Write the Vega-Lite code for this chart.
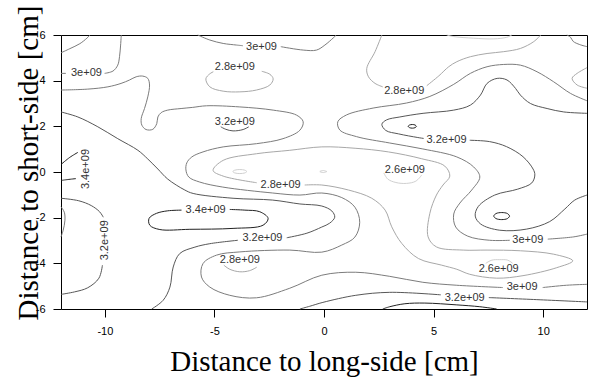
{
"$schema":"https://vega.github.io/schema/vega-lite/v6.json",
"width":526,"height":274,
"autosize":{"type":"none"},
"padding":{"left":61,"top":35,"right":5,"bottom":70},
"background":"#ffffff",
"config":{"view":{"stroke":"#000","strokeWidth":1}},
"datasets":{
"lines":[
{"g":"A","o":0,"x":-12,"y":5.22,"l":"3.0"},{"g":"A","o":1,"x":-11.6,"y":5.40,"l":"3.0"},{"g":"A","o":2,"x":-11.14,"y":5.62,"l":"3.0"},{"g":"A","o":3,"x":-10.82,"y":5.86,"l":"3.0"},{"g":"A","o":4,"x":-10.68,"y":6.0,"l":"3.0"},
{"g":"B1","o":0,"x":-12,"y":4.32,"l":"3.0"},{"g":"B1","o":1,"x":-11.78,"y":4.32,"l":"3.0"},
{"g":"B2","o":0,"x":-10.01,"y":4.32,"l":"3.0"},{"g":"B2","o":1,"x":-9.63,"y":4.42,"l":"3.0"},{"g":"B2","o":2,"x":-9.41,"y":4.68,"l":"3.0"},{"g":"B2","o":3,"x":-9.33,"y":5.05,"l":"3.0"},{"g":"B2","o":4,"x":-9.28,"y":5.56,"l":"3.0"},{"g":"B2","o":5,"x":-9.25,"y":6.0,"l":"3.0"},
{"g":"C","o":0,"x":-12,"y":3.59,"l":"3.0"},{"g":"C","o":1,"x":-10.78,"y":3.63,"l":"3.0"},{"g":"C","o":2,"x":-9.86,"y":3.73,"l":"3.0"},{"g":"C","o":3,"x":-9.26,"y":3.88,"l":"3.0"},{"g":"C","o":4,"x":-8.87,"y":4.03,"l":"3.0"},{"g":"C","o":5,"x":-8.57,"y":4.17,"l":"3.0"},{"g":"C","o":6,"x":-8.27,"y":4.20,"l":"3.0"},{"g":"C","o":7,"x":-8.04,"y":4.10,"l":"3.0"},{"g":"C","o":8,"x":-7.96,"y":3.81,"l":"3.0"},{"g":"C","o":9,"x":-8.04,"y":3.29,"l":"3.0"},{"g":"C","o":10,"x":-8.19,"y":2.78,"l":"3.0"},{"g":"C","o":11,"x":-8.34,"y":2.34,"l":"3.0"},{"g":"C","o":12,"x":-8.31,"y":2.05,"l":"3.0"},{"g":"C","o":13,"x":-8.12,"y":1.86,"l":"3.0"},{"g":"C","o":14,"x":-7.81,"y":1.87,"l":"3.0"},{"g":"C","o":15,"x":-7.63,"y":2.12,"l":"3.0"},{"g":"C","o":16,"x":-7.58,"y":2.41,"l":"3.0"},{"g":"C","o":17,"x":-7.43,"y":2.60,"l":"3.0"},{"g":"C","o":18,"x":-7.13,"y":2.71,"l":"3.0"},{"g":"C","o":19,"x":-6.52,"y":2.78,"l":"3.0"},{"g":"C","o":20,"x":-5.99,"y":2.83,"l":"3.0"},{"g":"C","o":21,"x":-5.36,"y":2.90,"l":"3.0"},{"g":"C","o":22,"x":-3.84,"y":2.85,"l":"3.0"},{"g":"C","o":23,"x":-2.32,"y":2.71,"l":"3.0"},{"g":"C","o":24,"x":-1.25,"y":2.49,"l":"3.0"},{"g":"C","o":25,"x":-0.95,"y":2.20,"l":"3.0"},{"g":"C","o":26,"x":-1.10,"y":1.83,"l":"3.0"},{"g":"C","o":27,"x":-1.87,"y":1.46,"l":"3.0"},{"g":"C","o":28,"x":-3.08,"y":1.24,"l":"3.0"},{"g":"C","o":29,"x":-4.60,"y":1.10,"l":"3.0"},{"g":"C","o":30,"x":-5.52,"y":0.88,"l":"3.0"},{"g":"C","o":31,"x":-6.03,"y":0.66,"l":"3.0"},{"g":"C","o":32,"x":-6.26,"y":0.40,"l":"3.0"},{"g":"C","o":33,"x":-6.30,"y":0.09,"l":"3.0"},{"g":"C","o":34,"x":-6.17,"y":-0.22,"l":"3.0"},{"g":"C","o":35,"x":-5.67,"y":-0.44,"l":"3.0"},{"g":"C","o":36,"x":-4.62,"y":-0.66,"l":"3.0"},{"g":"C","o":37,"x":-2.34,"y":-0.92,"l":"3.0"},{"g":"C","o":38,"x":-1.10,"y":-1.01,"l":"3.0"},{"g":"C","o":39,"x":-0.10,"y":-0.92,"l":"3.0"},{"g":"C","o":40,"x":0.81,"y":-1.12,"l":"3.0"},{"g":"C","o":41,"x":1.41,"y":-1.54,"l":"3.0"},{"g":"C","o":42,"x":1.63,"y":-2.20,"l":"3.0"},{"g":"C","o":43,"x":1.41,"y":-2.85,"l":"3.0"},{"g":"C","o":44,"x":0.81,"y":-3.20,"l":"3.0"},{"g":"C","o":45,"x":-0.10,"y":-3.51,"l":"3.0"},{"g":"C","o":46,"x":-1.56,"y":-3.42,"l":"3.0"},{"g":"C","o":47,"x":-3.84,"y":-3.50,"l":"3.0"},{"g":"C","o":48,"x":-4.90,"y":-3.64,"l":"3.0"},{"g":"C","o":49,"x":-5.52,"y":-4.01,"l":"3.0"},{"g":"C","o":50,"x":-5.59,"y":-4.60,"l":"3.0"},{"g":"C","o":51,"x":-5.21,"y":-5.04,"l":"3.0"},{"g":"C","o":52,"x":-4.30,"y":-5.40,"l":"3.0"},{"g":"C","o":53,"x":-3.08,"y":-5.51,"l":"3.0"},{"g":"C","o":54,"x":-1.56,"y":-5.09,"l":"3.0"},{"g":"C","o":55,"x":-0.10,"y":-4.52,"l":"3.0"},{"g":"C","o":56,"x":1.45,"y":-4.39,"l":"3.0"},{"g":"C","o":57,"x":3.00,"y":-4.57,"l":"3.0"},{"g":"C","o":58,"x":4.51,"y":-4.83,"l":"3.0"},{"g":"C","o":59,"x":6.06,"y":-4.96,"l":"3.0"},{"g":"C","o":60,"x":8.16,"y":-5.06,"l":"3.0"},
{"g":"C2","o":0,"x":9.98,"y":-5.06,"l":"3.0"},{"g":"C2","o":1,"x":11.06,"y":-4.96,"l":"3.0"},{"g":"C2","o":2,"x":12,"y":-4.92,"l":"3.0"},
{"g":"D","o":0,"x":-12,"y":2.63,"l":"3.2"},{"g":"D","o":1,"x":-11.23,"y":2.41,"l":"3.2"},{"g":"D","o":2,"x":-10.32,"y":1.98,"l":"3.2"},{"g":"D","o":3,"x":-9.41,"y":1.46,"l":"3.2"},{"g":"D","o":4,"x":-8.49,"y":0.95,"l":"3.2"},{"g":"D","o":5,"x":-8.04,"y":0.57,"l":"3.2"},{"g":"D","o":6,"x":-7.58,"y":0.13,"l":"3.2"},{"g":"D","o":7,"x":-7.13,"y":-0.31,"l":"3.2"},{"g":"D","o":8,"x":-6.35,"y":-0.79,"l":"3.2"},{"g":"D","o":9,"x":-5.97,"y":-0.94,"l":"3.2"},{"g":"D","o":10,"x":-4.15,"y":-1.15,"l":"3.2"},{"g":"D","o":11,"x":-2.34,"y":-1.23,"l":"3.2"},{"g":"D","o":12,"x":-1.10,"y":-1.40,"l":"3.2"},{"g":"D","o":13,"x":-0.10,"y":-1.49,"l":"3.2"},{"g":"D","o":14,"x":0.36,"y":-1.71,"l":"3.2"},{"g":"D","o":15,"x":0.49,"y":-1.98,"l":"3.2"},{"g":"D","o":16,"x":0.26,"y":-2.24,"l":"3.2"},{"g":"D","o":17,"x":-0.10,"y":-2.41,"l":"3.2"},{"g":"D","o":18,"x":-0.78,"y":-2.68,"l":"3.2"},{"g":"D","o":19,"x":-1.70,"y":-2.88,"l":"3.2"},
{"g":"N","o":0,"x":-3.93,"y":-2.99,"l":"3.2"},{"g":"N","o":1,"x":-5.21,"y":-3.14,"l":"3.2"},{"g":"N","o":2,"x":-5.89,"y":-3.29,"l":"3.2"},{"g":"N","o":3,"x":-6.58,"y":-3.57,"l":"3.2"},{"g":"N","o":4,"x":-6.88,"y":-4.16,"l":"3.2"},{"g":"N","o":5,"x":-7.03,"y":-5.04,"l":"3.2"},{"g":"N","o":6,"x":-7.34,"y":-5.62,"l":"3.2"},{"g":"N","o":7,"x":-7.86,"y":-6.0,"l":"3.2"},
{"g":"M","o":0,"x":-6.50,"y":-1.67,"l":"3.4"},{"g":"M","o":1,"x":-7.13,"y":-1.70,"l":"3.4"},{"g":"M","o":2,"x":-7.64,"y":-1.81,"l":"3.4"},{"g":"M","o":3,"x":-7.98,"y":-2.03,"l":"3.4"},{"g":"M","o":4,"x":-7.95,"y":-2.33,"l":"3.4"},{"g":"M","o":5,"x":-7.49,"y":-2.52,"l":"3.4"},{"g":"M","o":6,"x":-6.12,"y":-2.51,"l":"3.4"},{"g":"M","o":7,"x":-4.15,"y":-2.47,"l":"3.4"},{"g":"M","o":8,"x":-2.78,"y":-2.33,"l":"3.4"},{"g":"M","o":9,"x":-2.55,"y":-2.03,"l":"3.4"},{"g":"M","o":10,"x":-2.93,"y":-1.74,"l":"3.4"},{"g":"M","o":11,"x":-3.61,"y":-1.67,"l":"3.4"},{"g":"M","o":12,"x":-4.30,"y":-1.64,"l":"3.4"},
{"g":"E1","o":0,"x":-12,"y":0.33,"l":"3.4"},{"g":"E1","o":1,"x":-11.6,"y":0.64,"l":"3.4"},{"g":"E1","o":2,"x":-11.23,"y":0.86,"l":"3.4"},
{"g":"E2","o":0,"x":-11.32,"y":-0.29,"l":"3.4"},{"g":"E2","o":1,"x":-11.69,"y":-0.33,"l":"3.4"},{"g":"E2","o":2,"x":-12,"y":-0.37,"l":"3.4"},
{"g":"LL","o":0,"x":-12,"y":-1.52,"l":"3.0"},{"g":"LL","o":1,"x":-11.85,"y":-1.76,"l":"3.0"},{"g":"LL","o":2,"x":-11.82,"y":-2.11,"l":"3.0"},{"g":"LL","o":3,"x":-11.90,"y":-2.55,"l":"3.0"},{"g":"LL","o":4,"x":-12,"y":-2.84,"l":"3.0"},
{"g":"F1","o":0,"x":-12,"y":-1.15,"l":"3.2"},{"g":"F1","o":1,"x":-11.19,"y":-1.26,"l":"3.2"},{"g":"F1","o":2,"x":-10.62,"y":-1.47,"l":"3.2"},{"g":"F1","o":3,"x":-10.24,"y":-1.74,"l":"3.2"},{"g":"F1","o":4,"x":-10.07,"y":-1.98,"l":"3.2"},
{"g":"F2","o":0,"x":-10.11,"y":-4.08,"l":"3.2"},{"g":"F2","o":1,"x":-10.27,"y":-4.65,"l":"3.2"},{"g":"F2","o":2,"x":-10.78,"y":-5.07,"l":"3.2"},{"g":"F2","o":3,"x":-11.38,"y":-5.25,"l":"3.2"},{"g":"F2","o":4,"x":-12,"y":-5.36,"l":"3.2"},
{"g":"G1","o":0,"x":-5.76,"y":6.0,"l":"3.0"},{"g":"G1","o":1,"x":-5.21,"y":5.78,"l":"3.0"},{"g":"G1","o":2,"x":-4.60,"y":5.63,"l":"3.0"},{"g":"G1","o":3,"x":-3.99,"y":5.56,"l":"3.0"},{"g":"G1","o":4,"x":-3.70,"y":5.53,"l":"3.0"},
{"g":"G2","o":0,"x":-1.97,"y":5.49,"l":"3.0"},{"g":"G2","o":1,"x":-0.95,"y":5.34,"l":"3.0"},{"g":"G2","o":2,"x":-0.34,"y":5.34,"l":"3.0"},{"g":"G2","o":3,"x":0.04,"y":5.56,"l":"3.0"},{"g":"G2","o":4,"x":0.42,"y":5.87,"l":"3.0"},{"g":"G2","o":5,"x":0.56,"y":6.0,"l":"3.0"},
{"g":"L28a","o":0,"x":-2.84,"y":4.41,"l":"2.8"},{"g":"L28a","o":1,"x":-2.47,"y":4.28,"l":"2.8"},{"g":"L28a","o":2,"x":-2.32,"y":4.08,"l":"2.8"},{"g":"L28a","o":3,"x":-2.47,"y":3.81,"l":"2.8"},{"g":"L28a","o":4,"x":-3.08,"y":3.59,"l":"2.8"},{"g":"L28a","o":5,"x":-3.84,"y":3.51,"l":"2.8"},{"g":"L28a","o":6,"x":-4.60,"y":3.54,"l":"2.8"},{"g":"L28a","o":7,"x":-5.21,"y":3.73,"l":"2.8"},{"g":"L28a","o":8,"x":-5.39,"y":4.08,"l":"2.8"},{"g":"L28a","o":9,"x":-5.21,"y":4.30,"l":"2.8"},{"g":"L28a","o":10,"x":-5.05,"y":4.39,"l":"2.8"},
{"g":"L32a","o":0,"x":-4.71,"y":1.98,"l":"3.2"},{"g":"L32a","o":1,"x":-4.48,"y":1.87,"l":"3.2"},{"g":"L32a","o":2,"x":-4.15,"y":1.80,"l":"3.2"},{"g":"L32a","o":3,"x":-3.69,"y":1.86,"l":"3.2"},{"g":"L32a","o":4,"x":-3.43,"y":1.98,"l":"3.2"},
{"g":"H1","o":0,"x":2.64,"y":6.0,"l":"2.8"},{"g":"H1","o":1,"x":2.33,"y":5.27,"l":"2.8"},{"g":"H1","o":2,"x":1.95,"y":4.53,"l":"2.8"},{"g":"H1","o":3,"x":2.03,"y":4.17,"l":"2.8"},{"g":"H1","o":4,"x":2.33,"y":3.88,"l":"2.8"},{"g":"H1","o":5,"x":2.68,"y":3.73,"l":"2.8"},
{"g":"H2","o":0,"x":4.69,"y":3.78,"l":"2.8"},{"g":"H2","o":1,"x":5.24,"y":4.21,"l":"2.8"},{"g":"H2","o":2,"x":5.69,"y":4.61,"l":"2.8"},{"g":"H2","o":3,"x":6.06,"y":4.83,"l":"2.8"},{"g":"H2","o":4,"x":6.68,"y":5.05,"l":"2.8"},{"g":"H2","o":5,"x":7.44,"y":5.19,"l":"2.8"},{"g":"H2","o":6,"x":8.20,"y":5.27,"l":"2.8"},{"g":"H2","o":7,"x":8.96,"y":5.41,"l":"2.8"},{"g":"H2","o":8,"x":9.57,"y":5.71,"l":"2.8"},{"g":"H2","o":9,"x":9.89,"y":6.0,"l":"2.8"},
{"g":"T26","o":0,"x":5.60,"y":6.0,"l":"2.6"},{"g":"T26","o":1,"x":5.92,"y":5.93,"l":"2.6"},{"g":"T26","o":2,"x":6.83,"y":5.86,"l":"2.6"},{"g":"T26","o":3,"x":7.75,"y":5.83,"l":"2.6"},{"g":"T26","o":4,"x":8.34,"y":5.90,"l":"2.6"},{"g":"T26","o":5,"x":8.57,"y":6.0,"l":"2.6"},
{"g":"I","o":0,"x":11.08,"y":6.0,"l":"3.0"},{"g":"I","o":1,"x":11.25,"y":5.90,"l":"3.0"},{"g":"I","o":2,"x":11.37,"y":5.72,"l":"3.0"},{"g":"I","o":3,"x":11.67,"y":5.58,"l":"3.0"},{"g":"I","o":4,"x":12,"y":5.49,"l":"3.0"},
{"g":"J","o":0,"x":12,"y":4.57,"l":"2.8"},{"g":"J","o":1,"x":11.55,"y":4.32,"l":"2.8"},{"g":"J","o":2,"x":11.32,"y":4.10,"l":"2.8"},{"g":"J","o":3,"x":11.55,"y":3.81,"l":"2.8"},{"g":"J","o":4,"x":12,"y":3.67,"l":"2.8"},
{"g":"K","o":0,"x":12,"y":3.12,"l":"3.0"},{"g":"K","o":1,"x":11.25,"y":3.44,"l":"3.0"},{"g":"K","o":2,"x":10.48,"y":3.95,"l":"3.0"},{"g":"K","o":3,"x":9.72,"y":4.39,"l":"3.0"},{"g":"K","o":4,"x":8.96,"y":4.68,"l":"3.0"},{"g":"K","o":5,"x":8.20,"y":4.71,"l":"3.0"},{"g":"K","o":6,"x":7.44,"y":4.61,"l":"3.0"},{"g":"K","o":7,"x":6.68,"y":4.32,"l":"3.0"},{"g":"K","o":8,"x":5.92,"y":3.84,"l":"3.0"},{"g":"K","o":9,"x":4.83,"y":3.31,"l":"3.0"},{"g":"K","o":10,"x":3.76,"y":3.02,"l":"3.0"},{"g":"K","o":11,"x":2.24,"y":2.80,"l":"3.0"},{"g":"K","o":12,"x":1.03,"y":2.50,"l":"3.0"},{"g":"K","o":13,"x":0.63,"y":2.20,"l":"3.0"},{"g":"K","o":14,"x":0.72,"y":1.84,"l":"3.0"},{"g":"K","o":15,"x":1.48,"y":1.55,"l":"3.0"},{"g":"K","o":16,"x":3.00,"y":1.27,"l":"3.0"},{"g":"K","o":17,"x":4.51,"y":1.01,"l":"3.0"},{"g":"K","o":18,"x":6.06,"y":0.66,"l":"3.0"},{"g":"K","o":19,"x":6.83,"y":0.22,"l":"3.0"},{"g":"K","o":20,"x":7.11,"y":-0.22,"l":"3.0"},{"g":"K","o":21,"x":6.74,"y":-0.79,"l":"3.0"},{"g":"K","o":22,"x":6.20,"y":-1.36,"l":"3.0"},{"g":"K","o":23,"x":5.92,"y":-1.84,"l":"3.0"},{"g":"K","o":24,"x":6.01,"y":-2.41,"l":"3.0"},{"g":"K","o":25,"x":6.56,"y":-2.81,"l":"3.0"},{"g":"K","o":26,"x":7.56,"y":-2.99,"l":"3.0"},{"g":"K","o":27,"x":8.48,"y":-2.99,"l":"3.0"},
{"g":"K2","o":0,"x":10.21,"y":-2.94,"l":"3.0"},{"g":"K2","o":1,"x":11.40,"y":-2.84,"l":"3.0"},{"g":"K2","o":2,"x":12,"y":-2.72,"l":"3.0"},
{"g":"S1","o":0,"x":12,"y":2.57,"l":"3.2"},{"g":"S1","o":1,"x":10.94,"y":2.63,"l":"3.2"},{"g":"S1","o":2,"x":10.18,"y":2.78,"l":"3.2"},{"g":"S1","o":3,"x":9.42,"y":3.00,"l":"3.2"},{"g":"S1","o":4,"x":8.96,"y":3.37,"l":"3.2"},{"g":"S1","o":5,"x":8.74,"y":3.66,"l":"3.2"},{"g":"S1","o":6,"x":8.35,"y":4.03,"l":"3.2"},{"g":"S1","o":7,"x":7.90,"y":4.10,"l":"3.2"},{"g":"S1","o":8,"x":7.44,"y":3.88,"l":"3.2"},{"g":"S1","o":9,"x":7.14,"y":3.37,"l":"3.2"},{"g":"S1","o":10,"x":6.68,"y":2.93,"l":"3.2"},{"g":"S1","o":11,"x":5.92,"y":2.71,"l":"3.2"},{"g":"S1","o":12,"x":4.52,"y":2.57,"l":"3.2"},{"g":"S1","o":13,"x":3.46,"y":2.41,"l":"3.2"},{"g":"S1","o":14,"x":2.85,"y":2.28,"l":"3.2"},{"g":"S1","o":15,"x":2.64,"y":2.09,"l":"3.2"},{"g":"S1","o":16,"x":2.82,"y":1.82,"l":"3.2"},{"g":"S1","o":17,"x":3.40,"y":1.67,"l":"3.2"},{"g":"S1","o":18,"x":4.28,"y":1.51,"l":"3.2"},{"g":"S1","o":19,"x":4.55,"y":1.47,"l":"3.2"},
{"g":"S2","o":0,"x":6.65,"y":1.39,"l":"3.2"},{"g":"S2","o":1,"x":7.56,"y":1.33,"l":"3.2"},{"g":"S2","o":2,"x":8.33,"y":1.11,"l":"3.2"},{"g":"S2","o":3,"x":9.08,"y":0.67,"l":"3.2"},{"g":"S2","o":4,"x":9.54,"y":0.13,"l":"3.2"},{"g":"S2","o":5,"x":9.62,"y":-0.13,"l":"3.2"},{"g":"S2","o":6,"x":9.48,"y":-0.48,"l":"3.2"},{"g":"S2","o":7,"x":8.84,"y":-0.75,"l":"3.2"},{"g":"S2","o":8,"x":7.79,"y":-1.01,"l":"3.2"},{"g":"S2","o":9,"x":7.04,"y":-1.51,"l":"3.2"},{"g":"S2","o":10,"x":6.90,"y":-1.93,"l":"3.2"},{"g":"S2","o":11,"x":7.15,"y":-2.28,"l":"3.2"},{"g":"S2","o":12,"x":8.02,"y":-2.55,"l":"3.2"},{"g":"S2","o":13,"x":9.25,"y":-2.50,"l":"3.2"},{"g":"S2","o":14,"x":10.30,"y":-2.17,"l":"3.2"},{"g":"S2","o":15,"x":10.99,"y":-1.62,"l":"3.2"},{"g":"S2","o":16,"x":11.44,"y":-1.23,"l":"3.2"},{"g":"S2","o":17,"x":12,"y":-1.01,"l":"3.2"},
{"g":"Ea","o":0,"x":4.22,"y":2.0,"l":"3.4"},{"g":"Ea","o":1,"x":4.16,"y":2.056,"l":"3.4"},{"g":"Ea","o":2,"x":4.03,"y":2.08,"l":"3.4"},{"g":"Ea","o":3,"x":3.90,"y":2.056,"l":"3.4"},{"g":"Ea","o":4,"x":3.84,"y":2.0,"l":"3.4"},{"g":"Ea","o":5,"x":3.90,"y":1.944,"l":"3.4"},{"g":"Ea","o":6,"x":4.03,"y":1.92,"l":"3.4"},{"g":"Ea","o":7,"x":4.16,"y":1.944,"l":"3.4"},{"g":"Ea","o":8,"x":4.22,"y":2.0,"l":"3.4"},
{"g":"Eb","o":0,"x":8.475,"y":-1.93,"l":"3.4"},{"g":"Eb","o":1,"x":8.37,"y":-1.82,"l":"3.4"},{"g":"Eb","o":2,"x":8.11,"y":-1.776,"l":"3.4"},{"g":"Eb","o":3,"x":7.85,"y":-1.82,"l":"3.4"},{"g":"Eb","o":4,"x":7.745,"y":-1.93,"l":"3.4"},{"g":"Eb","o":5,"x":7.85,"y":-2.04,"l":"3.4"},{"g":"Eb","o":6,"x":8.11,"y":-2.084,"l":"3.4"},{"g":"Eb","o":7,"x":8.37,"y":-2.04,"l":"3.4"},{"g":"Eb","o":8,"x":8.475,"y":-1.93,"l":"3.4"},
{"g":"Sp1","o":0,"x":-3.52,"y":0.02,"l":"2.6"},{"g":"Sp1","o":1,"x":-3.61,"y":0.08,"l":"2.6"},{"g":"Sp1","o":2,"x":-3.84,"y":0.108,"l":"2.6"},{"g":"Sp1","o":3,"x":-4.07,"y":0.08,"l":"2.6"},{"g":"Sp1","o":4,"x":-4.16,"y":0.02,"l":"2.6"},{"g":"Sp1","o":5,"x":-4.07,"y":-0.04,"l":"2.6"},{"g":"Sp1","o":6,"x":-3.84,"y":-0.068,"l":"2.6"},{"g":"Sp1","o":7,"x":-3.61,"y":-0.04,"l":"2.6"},{"g":"Sp1","o":8,"x":-3.52,"y":0.02,"l":"2.6"},
{"g":"Sp2","o":0,"x":0.13,"y":0.02,"l":"2.6"},{"g":"Sp2","o":1,"x":-0.03,"y":0.064,"l":"2.6"},{"g":"Sp2","o":2,"x":-0.19,"y":0.02,"l":"2.6"},{"g":"Sp2","o":3,"x":-0.03,"y":-0.024,"l":"2.6"},{"g":"Sp2","o":4,"x":0.13,"y":0.02,"l":"2.6"},
{"g":"L26c","o":0,"x":2.73,"y":-0.04,"l":"2.6"},{"g":"L26c","o":1,"x":2.91,"y":-0.31,"l":"2.6"},{"g":"L26c","o":2,"x":3.28,"y":-0.46,"l":"2.6"},{"g":"L26c","o":3,"x":3.76,"y":-0.50,"l":"2.6"},{"g":"L26c","o":4,"x":4.19,"y":-0.40,"l":"2.6"},{"g":"L26c","o":5,"x":4.46,"y":-0.13,"l":"2.6"},
{"g":"L26d","o":0,"x":7.38,"y":-4.00,"l":"2.6"},{"g":"L26d","o":1,"x":7.66,"y":-3.86,"l":"2.6"},{"g":"L26d","o":2,"x":8.02,"y":-3.84,"l":"2.6"},{"g":"L26d","o":3,"x":8.38,"y":-3.86,"l":"2.6"},{"g":"L26d","o":4,"x":8.61,"y":-4.00,"l":"2.6"},
{"g":"L28c","o":0,"x":-3.07,"y":-0.47,"l":"2.8"},{"g":"L28c","o":1,"x":-4.60,"y":-0.18,"l":"2.8"},{"g":"L28c","o":2,"x":-5.06,"y":0.07,"l":"2.8"},{"g":"L28c","o":3,"x":-4.60,"y":0.51,"l":"2.8"},{"g":"L28c","o":4,"x":-3.08,"y":0.80,"l":"2.8"},{"g":"L28c","o":5,"x":-1.56,"y":0.95,"l":"2.8"},{"g":"L28c","o":6,"x":-0.10,"y":1.10,"l":"2.8"},{"g":"L28c","o":7,"x":1.42,"y":1.04,"l":"2.8"},{"g":"L28c","o":8,"x":2.94,"y":0.88,"l":"2.8"},{"g":"L28c","o":9,"x":4.46,"y":0.58,"l":"2.8"},{"g":"L28c","o":10,"x":5.51,"y":0.26,"l":"2.8"},{"g":"L28c","o":11,"x":5.74,"y":-0.18,"l":"2.8"},{"g":"L28c","o":12,"x":5.43,"y":-0.57,"l":"2.8"},{"g":"L28c","o":13,"x":5.13,"y":-1.01,"l":"2.8"},{"g":"L28c","o":14,"x":4.83,"y":-1.81,"l":"2.8"},{"g":"L28c","o":15,"x":4.75,"y":-2.84,"l":"2.8"},{"g":"L28c","o":16,"x":5.13,"y":-3.28,"l":"2.8"},{"g":"L28c","o":17,"x":6.35,"y":-3.42,"l":"2.8"},{"g":"L28c","o":18,"x":7.44,"y":-3.42,"l":"2.8"},{"g":"L28c","o":19,"x":8.96,"y":-3.45,"l":"2.8"},{"g":"L28c","o":20,"x":10.48,"y":-3.60,"l":"2.8"},{"g":"L28c","o":21,"x":11.35,"y":-3.89,"l":"2.8"},{"g":"L28c","o":22,"x":10.62,"y":-4.19,"l":"2.8"},{"g":"L28c","o":23,"x":9.08,"y":-4.54,"l":"2.8"},{"g":"L28c","o":24,"x":7.88,"y":-4.65,"l":"2.8"},{"g":"L28c","o":25,"x":6.65,"y":-4.48,"l":"2.8"},{"g":"L28c","o":26,"x":6.06,"y":-4.26,"l":"2.8"},{"g":"L28c","o":27,"x":5.37,"y":-4.08,"l":"2.8"},{"g":"L28c","o":28,"x":4.31,"y":-3.79,"l":"2.8"},{"g":"L28c","o":29,"x":3.55,"y":-3.13,"l":"2.8"},{"g":"L28c","o":30,"x":3.09,"y":-2.40,"l":"2.8"},{"g":"L28c","o":31,"x":2.79,"y":-1.67,"l":"2.8"},{"g":"L28c","o":32,"x":2.18,"y":-1.15,"l":"2.8"},{"g":"L28c","o":33,"x":1.12,"y":-0.79,"l":"2.8"},{"g":"L28c","o":34,"x":-0.10,"y":-0.57,"l":"2.8"},{"g":"L28c","o":35,"x":-0.88,"y":-0.57,"l":"2.8"},
{"g":"L28d","o":0,"x":-4.57,"y":-4.08,"l":"2.8"},{"g":"L28d","o":1,"x":-4.30,"y":-4.26,"l":"2.8"},{"g":"L28d","o":2,"x":-3.84,"y":-4.37,"l":"2.8"},{"g":"L28d","o":3,"x":-3.39,"y":-4.32,"l":"2.8"},{"g":"L28d","o":4,"x":-3.07,"y":-4.17,"l":"2.8"},
{"g":"Q1","o":0,"x":-1.10,"y":-6.0,"l":"3.2"},{"g":"Q1","o":1,"x":-0.65,"y":-5.88,"l":"3.2"},{"g":"Q1","o":2,"x":-0.05,"y":-5.71,"l":"3.2"},{"g":"Q1","o":3,"x":1.45,"y":-5.40,"l":"3.2"},{"g":"Q1","o":4,"x":3.00,"y":-5.27,"l":"3.2"},{"g":"Q1","o":5,"x":5.33,"y":-5.38,"l":"3.2"},
{"g":"Q2","o":0,"x":7.52,"y":-5.50,"l":"3.2"},{"g":"Q2","o":1,"x":9.71,"y":-5.59,"l":"3.2"},{"g":"Q2","o":2,"x":12,"y":-5.69,"l":"3.2"},
{"g":"R","o":0,"x":2.68,"y":-6.0,"l":"3.4"},{"g":"R","o":1,"x":3.00,"y":-5.90,"l":"3.4"},{"g":"R","o":2,"x":3.69,"y":-5.77,"l":"3.4"},{"g":"R","o":3,"x":4.60,"y":-5.74,"l":"3.4"},{"g":"R","o":4,"x":6.06,"y":-5.82,"l":"3.4"},{"g":"R","o":5,"x":7.11,"y":-5.90,"l":"3.4"},{"g":"R","o":6,"x":7.88,"y":-6.0,"l":"3.4"}
],
"labh":[
{"t":"3e+09","x":-10.84,"y":4.32},{"t":"3e+09","x":-2.85,"y":5.49},{"t":"2.8e+09","x":-4.07,"y":4.61},{"t":"3.2e+09","x":-4.07,"y":2.20},{"t":"2.8e+09","x":3.66,"y":3.56},{"t":"3.2e+09","x":5.59,"y":1.40},{"t":"2.6e+09","x":3.69,"y":0.09},{"t":"2.8e+09","x":-1.98,"y":-0.57},{"t":"3.4e+09","x":-5.40,"y":-1.67},{"t":"3.2e+09","x":-2.81,"y":-2.91},{"t":"2.8e+09","x":-3.84,"y":-3.86},{"t":"3e+09","x":9.30,"y":-2.99},{"t":"2.6e+09","x":7.97,"y":-4.23},{"t":"3e+09","x":9.04,"y":-5.04},{"t":"3.2e+09","x":6.42,"y":-5.50}
],
"labv":[
{"t":"3.4e+09","x":-10.87,"y":0.13},{"t":"3.2e+09","x":-9.97,"y":-2.99}
]
},
"encoding":{
"x":{"field":"x","type":"quantitative","scale":{"domain":[-12,12],"nice":false,"zero":false},
"axis":{"title":"Distance to long-side [cm]","values":[-10,-5,0,5,10],"labelExpr":"'' + datum.value","grid":false,"domain":false,"ticks":true,"tickSize":8,"tickColor":"#000","labelFont":"Liberation Sans","labelFontSize":11,"labelColor":"#000","labelPadding":8,"titleFont":"Liberation Serif","titleFontSize":29,"titleFontWeight":"normal","titleColor":"#000","titleY":61,"titleBaseline":"alphabetic"}},
"y":{"field":"y","type":"quantitative","scale":{"domain":[-6,6],"nice":false,"zero":false},
"axis":{"title":"Distance to short-side [cm]","values":[-6,-4,-2,0,2,4,6],"labelExpr":"'' + datum.value","grid":false,"domain":false,"ticks":true,"tickSize":8,"tickColor":"#000","labelFont":"Liberation Sans","labelFontSize":11,"labelColor":"#000","labelPadding":8,"titleFont":"Liberation Serif","titleFontSize":29,"titleFontWeight":"normal","titleColor":"#000","titleX":-24,"titleY":127.5,"titleAngle":270,"titleAlign":"center","titleBaseline":"alphabetic"}}
},
"layer":[
{"data":{"name":"lines"},"mark":{"type":"line","strokeWidth":1,"interpolate":"catmull-rom"},
"encoding":{"detail":{"field":"g"},"order":{"field":"o","type":"quantitative"},
"color":{"field":"l","type":"nominal","scale":{"domain":["2.6","2.8","3.0","3.2","3.4"],"range":["#d0d0d0","#a8a8a8","#7c7c7c","#575757","#222222"]},"legend":null}}},
{"data":{"name":"labh"},"mark":{"type":"text","font":"Liberation Sans","fontSize":11,"fill":"#333","align":"center","baseline":"middle"},
"encoding":{"text":{"field":"t"}}},
{"data":{"name":"labv"},"mark":{"type":"text","font":"Liberation Sans","fontSize":11,"fill":"#333","align":"center","baseline":"middle","angle":270},
"encoding":{"text":{"field":"t"}}}
]
}
